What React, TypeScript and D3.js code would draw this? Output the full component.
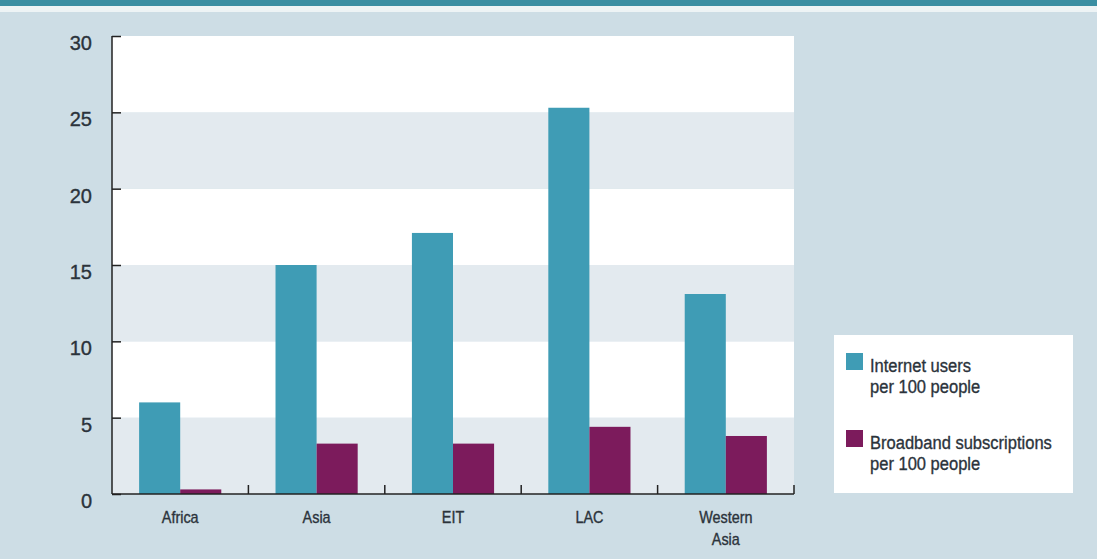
import React, { useEffect, useRef } from 'react';
import * as d3 from 'd3';

// regions along the x axis
const regions: string[][] = [['Africa'], ['Asia'], ['EIT'], ['LAC'], ['Western', 'Asia']];
// values
const internetUsers: number[] = [6.0, 15.0, 17.1, 25.3, 13.1];
const broadband: number[] = [0.3, 3.3, 3.3, 4.4, 3.8];
const yTicks: number[] = [0, 5, 10, 15, 20, 25, 30];
const seriesNames: string[][] = [
    ['Internet users', 'per 100 people'],
    ['Broadband subscriptions', 'per 100 people'],
];

const W = 1097;
const H = 559;
const TEAL = '#3f9cb5';
const PURPLE = '#7c1b5c';
const BG = '#cddde5';
const BAND = '#e3eaef';
const INK = '#2b333b';
const FONT = '"Liberation Sans", Arial, sans-serif';

type Sel = d3.Selection<SVGGElement, unknown, null, undefined>;

// condensed-looking text: squeeze Liberation Sans horizontally, thicken a bit
const narrowText = (parent: Sel, x: number, y: number, txt: string, size: number,
                    anchor = 'start', squeeze = 0.87) => {
    parent.append('text')
        .attr('transform', `translate(${x},${y}) scale(${squeeze},1)`)
        .attr('text-anchor', anchor)
        .attr('font-family', FONT)
        .attr('font-size', size)
        .attr('fill', INK)
        .attr('stroke', INK)
        .attr('stroke-width', 0.35)
        .text(txt);
};

const App: React.FC = () => {
    const svgRef = useRef<SVGSVGElement>(null);

    useEffect(() => {
        if (!svgRef.current) return;
        const svg = d3.select(svgRef.current);
        svg.selectAll('*').remove();
        const root = svg.append('g') as Sel;

        const plot = { left: 112, right: 794, top: 36, bottom: 494 };

        // background + top strip
        root.append('rect').attr('width', W).attr('height', H).attr('fill', BG);
        root.append('rect').attr('width', W).attr('height', 6).attr('fill', '#3a8ea2');
        root.append('rect').attr('y', 6).attr('width', W).attr('height', 6).attr('fill', '#edf3f5');

        const x0 = d3.scaleBand<number>()
            .domain(d3.range(regions.length))
            .range([plot.left, plot.right]);
        const x1 = d3.scaleBand<number>()
            .domain([0, 1])
            .range([0, x0.bandwidth()])
            .paddingOuter(0.66);
        const y = d3.scaleLinear().domain([0, 30]).range([plot.bottom, plot.top]);

        // alternating bands
        const g = root.append('g');
        d3.range(0, 30, 5).forEach((v, i) => {
            g.append('rect')
                .attr('x', plot.left)
                .attr('y', y(v + 5))
                .attr('width', plot.right - plot.left)
                .attr('height', y(v) - y(v + 5))
                .attr('fill', i % 2 === 0 ? BAND : '#ffffff');
        });

        // bars
        const series = [internetUsers, broadband];
        const colors = [TEAL, PURPLE];
        series.forEach((vals, s) => {
            g.append('g').selectAll('rect')
                .data(vals)
                .join('rect')
                .attr('x', (_, i) => (x0(i) as number) + (x1(s) as number))
                .attr('y', d => y(d))
                .attr('width', x1.bandwidth())
                .attr('height', d => y(0) - y(d))
                .attr('fill', colors[s]);
        });

        // y axis, ticks pointing into the plot
        const yAxis = root.append('g')
            .attr('transform', `translate(${plot.left},0)`)
            .call(d3.axisRight(y).tickValues(yTicks).tickSize(9).tickFormat(() => ''));
        yAxis.select('.domain').attr('stroke', '#222').attr('stroke-width', 1.5).attr('d', `M0,${plot.top}V${plot.bottom}`);
        yAxis.selectAll('.tick line').attr('stroke', '#222').attr('stroke-width', 1.5);

        const yLabels = root.append('g') as Sel;
        yTicks.forEach(t => narrowText(yLabels, 92, y(t) + 14, String(t), 20, 'end', 1.0));

        // x axis with ticks at group boundaries
        const bounds = d3.range(1, regions.length + 1).map(i => plot.left + i * x0.step());
        const xAxis = root.append('g');
        xAxis.append('line')
            .attr('x1', plot.left).attr('x2', plot.right)
            .attr('y1', plot.bottom).attr('y2', plot.bottom)
            .attr('stroke', '#222').attr('stroke-width', 1.5);
        xAxis.selectAll('line.tk')
            .data(bounds)
            .join('line')
            .attr('class', 'tk')
            .attr('x1', d => d).attr('x2', d => d)
            .attr('y1', plot.bottom).attr('y2', plot.bottom - 9)
            .attr('stroke', '#222').attr('stroke-width', 1.5);

        const xLabels = root.append('g') as Sel;
        regions.forEach((lines, i) => {
            const cx = (x0(i) as number) + x0.bandwidth() / 2;
            lines.forEach((ln, j) => narrowText(xLabels, cx, 523 + j * 22, ln, 16, 'middle', 0.9));
        });

        // legend
        const lg = root.append('g').attr('transform', 'translate(834,335)') as Sel;
        lg.append('rect').attr('width', 239).attr('height', 158).attr('fill', '#ffffff');
        seriesNames.forEach((lines, s) => {
            const top = 18 + s * 77;
            lg.append('rect')
                .attr('x', 12).attr('y', top)
                .attr('width', 17).attr('height', 17)
                .attr('fill', colors[s]);
            lines.forEach((ln, j) => narrowText(lg, 36, top + 19 + j * 21, ln, 19));
        });
    }, []);

    return (
        <div style={{ position: 'absolute', left: 0, top: 0 }}>
            <svg ref={svgRef} width={W} height={H} style={{ display: 'block' }} />
        </div>
    );
};

export default App;
